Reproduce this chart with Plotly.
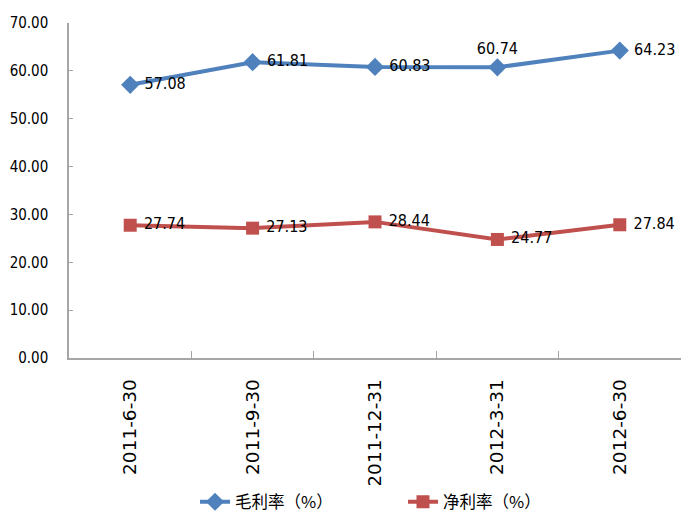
import plotly.graph_objects as go

categories = ["2011-6-30", "2011-9-30", "2011-12-31", "2012-3-31", "2012-6-30"]
gross_margin = [57.08, 61.81, 60.83, 60.74, 64.23]
net_margin = [27.74, 27.13, 28.44, 24.77, 27.84]
y_ticks = [0, 10, 20, 30, 40, 50, 60, 70]
y_tick_labels = ["%.2f" % v for v in y_ticks]

num_font = "DejaVu Sans Condensed, Liberation Sans Narrow, sans-serif"
cjk_font = "Noto Sans CJK SC, sans-serif"

gross_pos = ["middle right", "middle right", "middle right", "top center", "middle right"]
gross_text = [(" %.2f" if p == "middle right" else "%.2f") % v for v, p in zip(gross_margin, gross_pos)]

fig = go.Figure()
fig.add_trace(go.Scatter(
    x=categories, y=gross_margin, name="毛利率（%）",
    mode="lines+markers+text",
    line=dict(color="#4F81BD", width=4),
    marker=dict(symbol="diamond", size=14, color="#4F81BD"),
    text=gross_text,
    textposition=gross_pos,
    textfont=dict(family=num_font, size=16, color="#000000"),
    cliponaxis=False,
))
fig.add_trace(go.Scatter(
    x=categories, y=net_margin, name="净利率（%）",
    mode="lines+markers+text",
    line=dict(color="#C0504D", width=4),
    marker=dict(symbol="square", size=13, color="#C0504D"),
    text=[" %.2f" % v for v in net_margin],
    textposition="middle right",
    textfont=dict(family=num_font, size=16, color="#000000"),
    cliponaxis=False,
))

fig.update_layout(
    width=681, height=514,
    margin=dict(l=69, r=0, t=23, b=156, autoexpand=False),
    paper_bgcolor="white", plot_bgcolor="white",
    showlegend=True,
    legend=dict(orientation="h", x=(195 - 69) / 612, xanchor="left",
                yref="container", y=1 - 502 / 514, yanchor="middle",
                font=dict(family=cjk_font, size=16.5, color="#000000"),
                itemwidth=30, entrywidth=163, entrywidthmode="pixels",
                tracegroupgap=0, borderwidth=0),
)
fig.update_xaxes(
    type="category", range=[-0.5, 4.5], automargin=False,
    showline=True, linecolor="#A6A6A6", linewidth=1.5,
    ticks="inside", ticklen=7, tickcolor="#A6A6A6", tickson="boundaries",
    tickangle=-90, ticklabelstandoff=12,
    tickfont=dict(family="DejaVu Sans, Verdana, sans-serif", size=18.5, color="#000000"),
    showgrid=False, zeroline=False,
)
fig.update_yaxes(
    range=[0, 70], tickvals=y_ticks, ticktext=y_tick_labels, automargin=False,
    showline=True, linecolor="#A6A6A6", linewidth=1.5,
    ticks="inside", ticklen=4, tickcolor="#A6A6A6", ticklabelstandoff=16,
    tickfont=dict(family=num_font, size=15, color="#000000"),
    showgrid=False, zeroline=False,
)

fig.write_html("out.html")
